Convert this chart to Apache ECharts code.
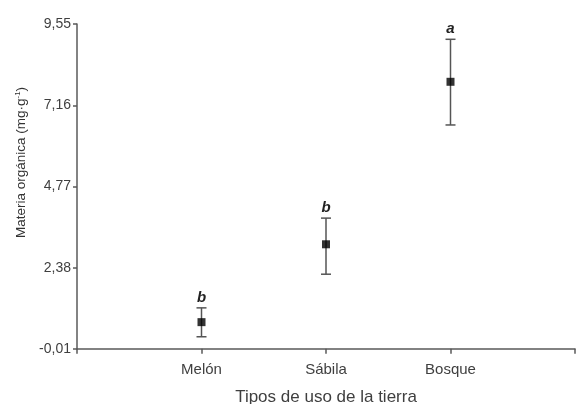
<!DOCTYPE html>
<html><head><meta charset="utf-8">
<script src="https://cdn.jsdelivr.net/npm/echarts@6/dist/echarts.min.js"></script>
<style>html,body{margin:0;padding:0;background:#fff}#c{width:576px;height:404px}</style>
</head><body><div id="c"></div>
<script>
var categories = ['Melón', 'Sábila', 'Bosque'];
var means = [0.78, 3.07, 7.85];
var lower = [0.35, 2.19, 6.58];
var upper = [1.20, 3.84, 9.10];
var letters = ['b', 'b', 'a'];
var yTicks = [-0.01, 2.38, 4.77, 7.16, 9.55];

var pos = categories.map(function (c, i) { return i + 1; });
var font = 'Liberation Sans, Arial, sans-serif';
var axisColor = '#5a5a5a';
var textColor = '#3f3f3f';

var chart = echarts.init(document.getElementById('c'));
chart.setOption({
  animation: false,
  grid: { left: 77, right: 1, top: 24, bottom: 55, containLabel: false, outerBoundsMode: 'none' },
  xAxis: {
    type: 'value', min: 0, max: 4, interval: 1,
    name: 'Tipos de uso de la tierra', nameLocation: 'middle', nameGap: 40,
    nameTextStyle: { fontFamily: font, fontSize: 17, color: textColor },
    axisLine: { show: true, lineStyle: { color: axisColor, width: 1.5 } },
    axisTick: { show: true, length: 5, lineStyle: { color: axisColor, width: 1.5 } },
    splitLine: { show: false },
    axisLabel: {
      customValues: pos, margin: 13,
      fontFamily: font, fontSize: 15, color: textColor,
      formatter: function (v) { return categories[Math.round(v) - 1] || ''; }
    }
  },
  yAxis: {
    type: 'value', min: yTicks[0], max: yTicks[yTicks.length - 1],
    name: '{a|Materia orgánica (mg·g}{s|-1}{a|)}', nameLocation: 'middle', nameGap: 48, nameRotate: 90,
    nameTextStyle: {
      fontFamily: font, fontSize: 13, color: textColor, padding: [0, 0, 0, 48],
      rich: {
        a: { fontFamily: font, fontSize: 13.5, color: '#333' },
        s: { fontFamily: font, fontSize: 8, color: '#333', padding: [0, 0, 7, 0] }
      }
    },
    axisLine: { show: true, lineStyle: { color: axisColor, width: 1.5 } },
    axisTick: { show: true, length: 4, customValues: yTicks, lineStyle: { color: axisColor, width: 1.5 } },
    splitLine: { show: false },
    axisLabel: {
      customValues: yTicks, margin: 6,
      fontFamily: font, fontSize: 14, color: textColor,
      formatter: function (v) { return v.toFixed(2).replace('.', ','); }
    }
  },
  series: [
    {
      type: 'custom',
      data: pos.map(function (p, i) { return [p, lower[i], upper[i], letters[i]]; }),
      renderItem: function (params, api) {
        var x = api.value(0);
        var lo = api.coord([x, api.value(1)]);
        var hi = api.coord([x, api.value(2)]);
        var w = 5;
        var st = { stroke: '#555', lineWidth: 1.5 };
        var i = params.dataIndex;
        return {
          type: 'group',
          children: [
            { type: 'line', shape: { x1: lo[0], y1: lo[1], x2: hi[0], y2: hi[1] }, style: st },
            { type: 'line', shape: { x1: lo[0] - w, y1: lo[1], x2: lo[0] + w, y2: lo[1] }, style: st },
            { type: 'line', shape: { x1: hi[0] - w, y1: hi[1], x2: hi[0] + w, y2: hi[1] }, style: st },
            { type: 'text', x: hi[0], y: hi[1] - 3,
              style: { text: letters[i], fill: '#222', font: 'italic bold 15px ' + font, textAlign: 'center', textVerticalAlign: 'bottom' } }
          ]
        };
      },
      z: 2
    },
    {
      type: 'scatter',
      symbol: 'rect', symbolSize: 8,
      itemStyle: { color: '#000' },
      data: pos.map(function (p, i) { return [p, means[i]]; }),
      z: 3
    }
  ]
});
</script>
</body></html>
